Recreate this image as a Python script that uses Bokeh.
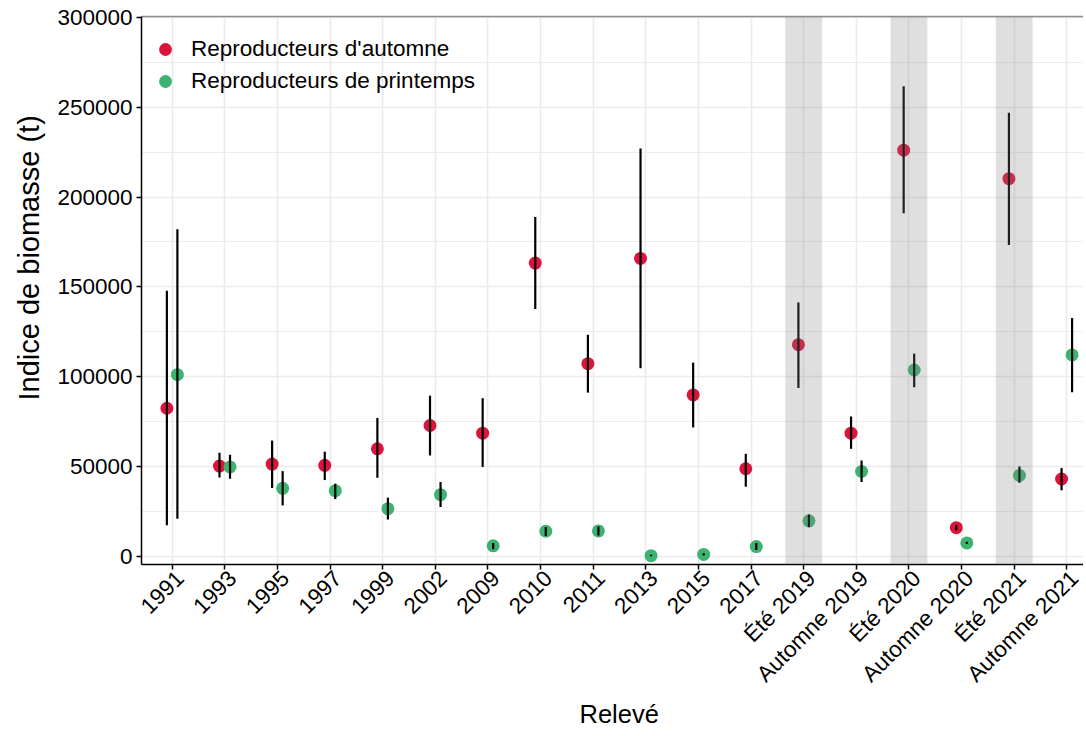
import math
from bokeh.plotting import figure
from bokeh.models import (ColumnDataSource, Range1d, FixedTicker, SingleIntervalTicker,
                          NumeralTickFormatter, LinearAxis, BoxAnnotation, Legend, LegendItem,
                          Title)
from bokeh.transform import dodge
from bokeh.embed import file_html
from bokeh.resources import INLINE

categories = ["1991", "1993", "1995", "1997", "1999", "2002", "2009", "2010", "2011",
              "2013", "2015", "2017", "Été 2019", "Automne 2019", "Été 2020",
              "Automne 2020", "Été 2021", "Automne 2021"]

autumn = [82400, 50200, 51300, 50600, 59800, 72800, 68500, 163200, 107200,
          165800, 89800, 48700, 117800, 68500, 226100, 15900, 210200, 43000]
autumn_low = [17200, 43900, 38000, 42400, 43700, 56100, 49700, 137600, 91100,
              104700, 71700, 38700, 93700, 59800, 190900, 14300, 173300, 36700]
autumn_high = [147800, 57600, 64400, 58200, 77000, 89400, 88000, 188900, 123300,
               227000, 107800, 57000, 141300, 77800, 261700, 17600, 246900, 49100]

spring = [101100, 49700, 37800, 36500, 26500, 34300, 5800, 13900, 14100,
          300, 1000, 5400, 19700, 47200, 103700, 7400, 45000, 112100]
spring_low = [20900, 43200, 28300, 31800, 20400, 27400, 3900, 11300, 11600,
              0, 400, 3500, 16100, 41300, 94100, 6800, 40900, 91300]
spring_high = [182000, 56500, 47400, 40400, 32600, 41300, 7400, 16300, 16600,
               800, 1600, 7400, 23200, 53300, 112800, 8000, 50000, 132600]

series_labels = ["Reproducteurs d'automne", "Reproducteurs de printemps"]
series_colors = ["#DC143C", "#3CB371"]
x_title = "Relevé"
y_title = "Indice de biomasse (t)"

idx = list(range(len(categories)))
src = ColumnDataSource(dict(x=idx, a=autumn, al=autumn_low, ah=autumn_high,
                            s=spring, sl=spring_low, sh=spring_high))

FONT = "Liberation Sans"
X0, X1 = -0.582, 17.317
LABEL_SHIFT = 0.15  # ggplot anchors rotated labels by their top-right corner

p = figure(width=1083, height=726,
           x_range=Range1d(X0, X1), y_range=Range1d(-4600, 300500),
           output_backend="svg", toolbar_location=None,
           min_border_left=139, min_border_right=0, min_border_top=16, min_border_bottom=150)
p.outline_line_color = None
p.background_fill_color = "white"
p.extra_x_ranges = {"lab": Range1d(X0 - LABEL_SHIFT, X1 - LABEL_SHIFT)}

# grid
p.xgrid.grid_line_color = "#ebebeb"
p.xgrid.grid_line_width = 1.6
p.ygrid.grid_line_color = "#ebebeb"
p.ygrid.grid_line_width = 1.6
p.ygrid.minor_grid_line_color = "#ebebeb"
p.ygrid.minor_grid_line_width = 0.9

# points
r_a = p.scatter(x=dodge("x", -0.1), y="a", source=src, size=13,
                fill_color=series_colors[0], line_color=None)
r_s = p.scatter(x=dodge("x", 0.1), y="s", source=src, size=13,
                fill_color=series_colors[1], line_color=None)
# error bars
p.segment(x0=dodge("x", -0.1), x1=dodge("x", -0.1), y0="al", y1="ah", source=src,
          line_color="black", line_width=2.2)
p.segment(x0=dodge("x", 0.1), x1=dodge("x", 0.1), y0="sl", y1="sh", source=src,
          line_color="black", line_width=2.2)

# shaded summer surveys
for i, c in enumerate(categories):
    if c.startswith("Été"):
        p.add_layout(BoxAnnotation(left=i - 0.35, right=i + 0.35, fill_color="#7f7f7f",
                                   fill_alpha=0.25, line_color=None))

# axes
p.xaxis.ticker = FixedTicker(ticks=idx)
p.xaxis.major_label_text_font_size = "0px"
p.xaxis.major_label_text_color = None
p.xaxis.major_label_standoff = 0
p.yaxis.ticker = SingleIntervalTicker(interval=50000, num_minor_ticks=2)
p.yaxis.formatter = NumeralTickFormatter(format="0")
for ax in (p.xaxis, p.yaxis):
    ax.axis_line_color = "black"
    ax.axis_line_width = 1.5
    ax.major_tick_line_color = "black"
    ax.major_tick_line_width = 1.5
    ax.major_tick_out = 5
    ax.major_tick_in = 0
    ax.minor_tick_line_color = None
p.yaxis.major_label_text_font = FONT
p.yaxis.major_label_text_font_size = "22.5px"
p.yaxis.major_label_text_color = "black"
p.yaxis.major_label_standoff = 4

lab_axis = LinearAxis(x_range_name="lab", ticker=FixedTicker(ticks=idx),
                      major_label_overrides={i: c for i, c in enumerate(categories)},
                      major_label_orientation=math.pi / 4,
                      axis_line_color=None, major_tick_line_color=None,
                      minor_tick_line_color=None, major_tick_out=0, major_tick_in=0,
                      major_label_standoff=5,
                      major_label_text_font=FONT, major_label_text_font_size="22.5px",
                      major_label_text_color="black")
p.add_layout(lab_axis, "below")

xt = Title(text=x_title, align="left", offset=438, standoff=-2,
           text_font=FONT, text_font_size="25.5px", text_font_style="normal",
           text_color="black")
p.add_layout(xt, "below")

yt = Title(text=y_title, align="left", offset=164, standoff=20,
           text_font=FONT, text_font_size="29px", text_font_style="normal",
           text_color="black")
p.add_layout(yt, "left")

top_axis = LinearAxis(ticker=FixedTicker(ticks=[]), major_label_text_font_size="0px",
                      major_tick_line_color=None, minor_tick_line_color=None,
                      axis_line_color="#8c8c8c", axis_line_width=1.5)
p.add_layout(top_axis, "above")

legend = Legend(items=[LegendItem(label=series_labels[0], renderers=[r_a]),
                       LegendItem(label=series_labels[1], renderers=[r_s])],
                location=(8, 467))
legend.border_line_color = None
legend.background_fill_alpha = 0
legend.padding = 0
legend.margin = 0
legend.spacing = 0
legend.glyph_width = 32
legend.glyph_height = 32
legend.label_height = 32
legend.label_standoff = 10
legend.label_text_font = FONT
legend.label_text_font_size = "22.5px"
legend.label_text_color = "black"
p.add_layout(legend)

open("out.html", "w").write(file_html(p, INLINE))
